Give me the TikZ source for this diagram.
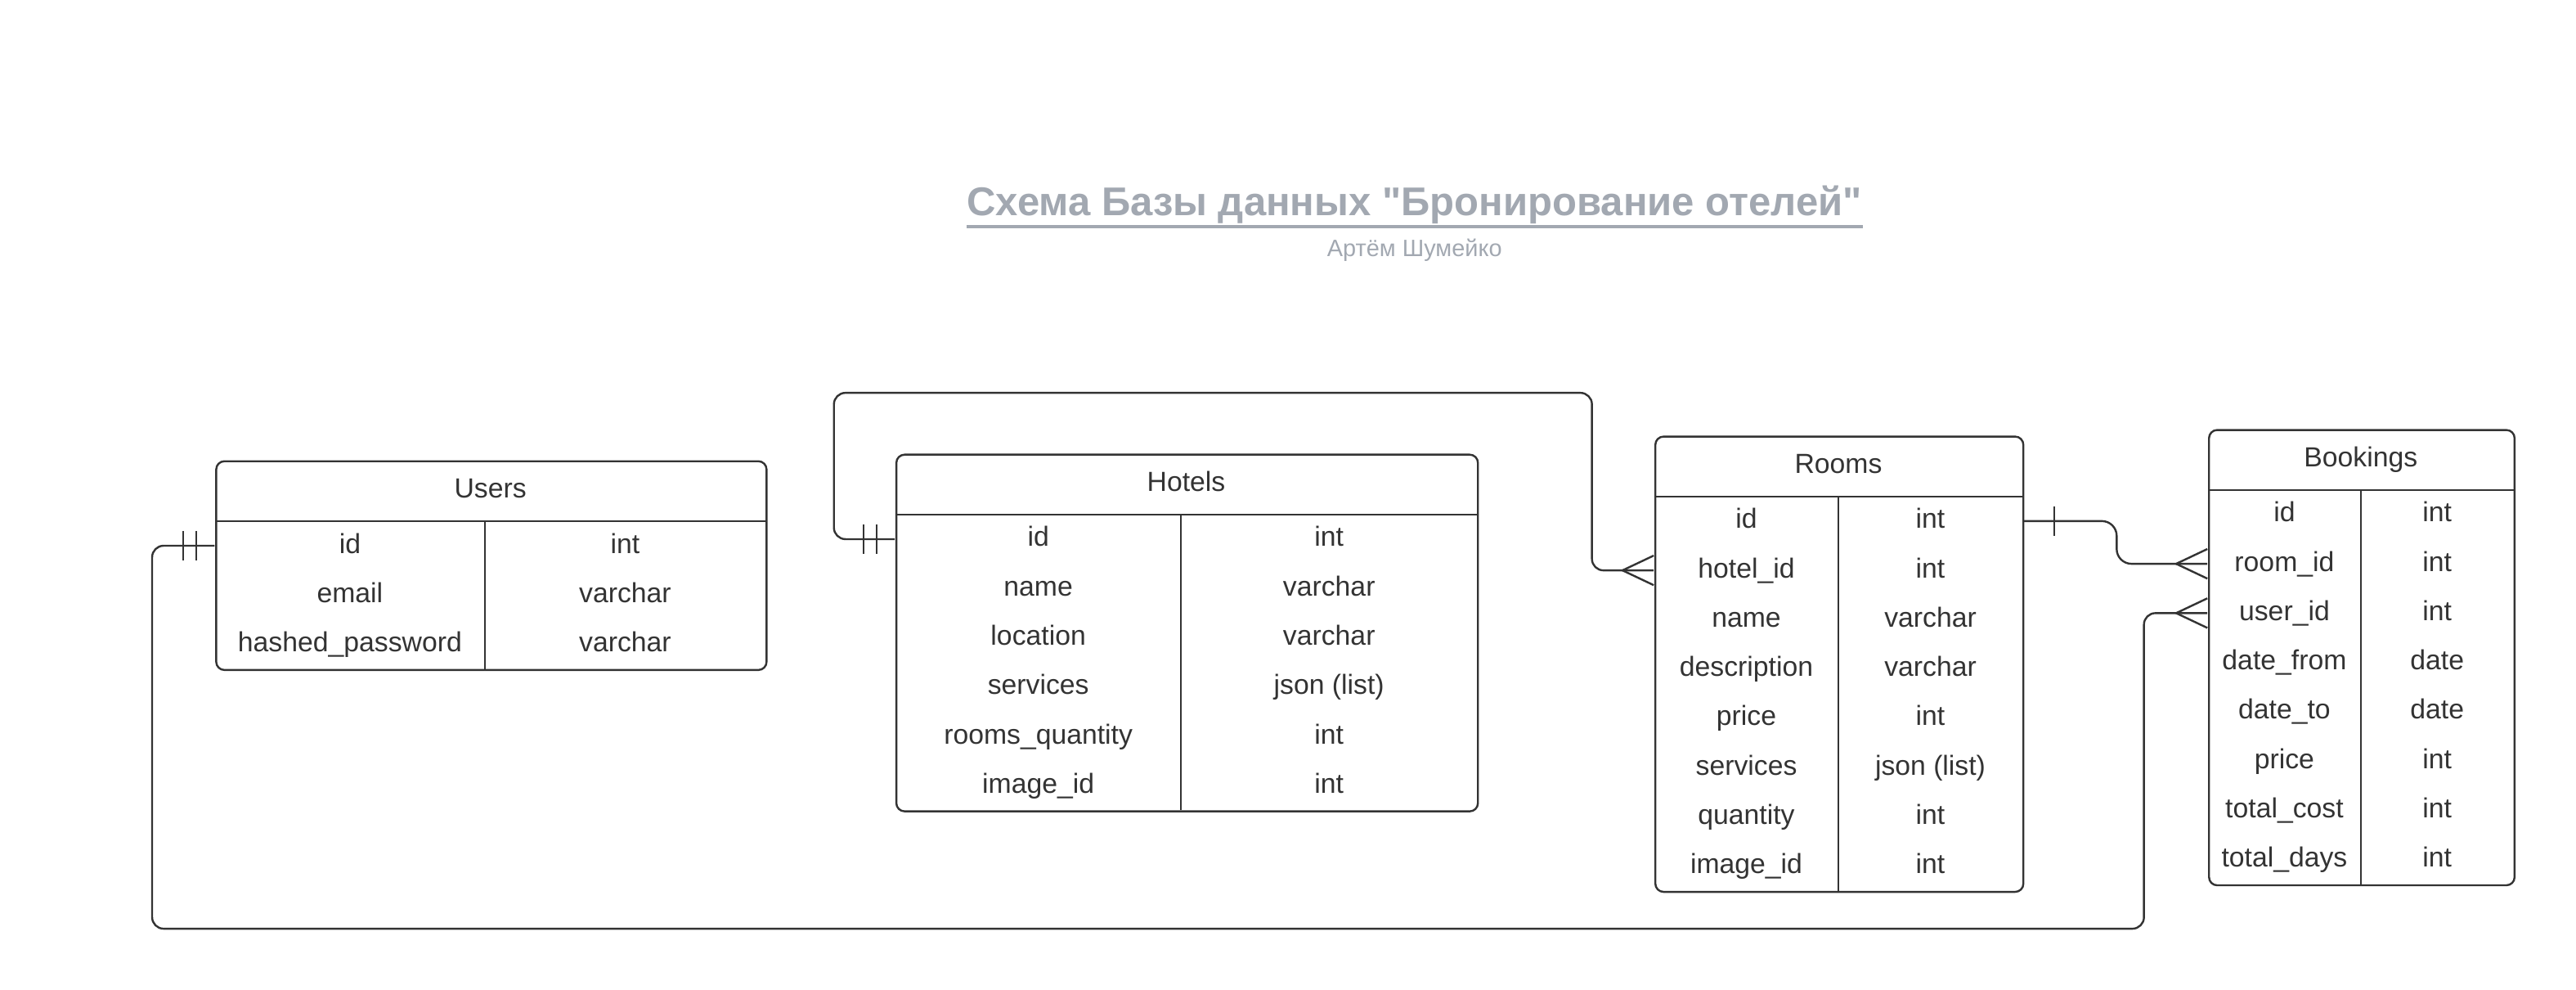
\documentclass[tikz,border=0pt]{standalone}
\usepackage{fontspec}
\setmainfont{Liberation Sans}
\newfontfamily\titlefont{Liberation Sans}[Ligatures=TeXOff]
\usetikzlibrary{calc}
\definecolor{ink}{HTML}{333333}
\definecolor{titlegray}{HTML}{A2A8B1}
\begin{document}
\begin{tikzpicture}[x=0.5pt,y=-0.5pt,
  tbl/.style={draw=ink, line width=0.6pt, rounded corners=2.5pt, inner sep=0pt, anchor=north west},
  divline/.style={draw=ink, line width=0.5pt},
  fieldcell/.style={inner sep=0pt, minimum height=15pt, text height=6pt, text depth=1.5pt, text=ink, font=\fontsize{8.4}{10}\selectfont},
  tblhead/.style={inner sep=0pt, text height=6pt, text depth=1.5pt, text=ink, font=\fontsize{8.4}{10}\selectfont},
  relline/.style={draw=ink, line width=0.6pt, rounded corners=3.5pt},
  crowfoot/.style={draw=ink, line width=0.6pt, sharp corners}]
\useasboundingbox (0,0) rectangle (1568,602);

% title
\node[anchor=base, inner sep=0pt, text=titlegray, font=\titlefont\fontsize{12.2}{15}\selectfont\bfseries] (title) at (861,131) {Схема Базы данных "Бронирование отелей"};
\draw[titlegray, line width=1pt] ($(title.base west)+(0,7)$) -- ($(title.base east)+(0,7)$);
\node[anchor=base, inner sep=0pt, text=titlegray, font=\fontsize{7.2}{9}\selectfont] (author) at (861,156) {Артём Шумейко};

% Users
\node[tbl, minimum width=167.5pt, minimum height=63.5pt] (users) at (131,280) {};
\node[tblhead] (users-h) at (298.5,298.5) {Users};
\draw[divline] (131,317) -- (466,317);
\draw[divline] (295,317) -- (295,407);
\foreach \a/\b [count=\i from 0] in {id/int, email/varchar, hashed\_password/varchar} {
  \node[fieldcell, minimum width=82pt] (u-\i-l) at (213,332+30*\i) {\a};
  \node[fieldcell, minimum width=85.5pt] (u-\i-r) at (380.5,332+30*\i) {\b};
}

% Hotels
\node[tbl, minimum width=177pt, minimum height=108.5pt] (hotels) at (545,276) {};
\node[tblhead] (hotels-h) at (722,294.5) {Hotels};
\draw[divline] (545,313) -- (899,313);
\draw[divline] (719,313) -- (719,493);
\foreach \a/\b [count=\i from 0] in {id/int, name/varchar, location/varchar, services/json (list), rooms\_quantity/int, image\_id/int} {
  \node[fieldcell, minimum width=87pt] (h-\i-l) at (632,328+30*\i) {\a};
  \node[fieldcell, minimum width=90pt] (h-\i-r) at (809,328+30*\i) {\b};
}

% Rooms
\node[tbl, minimum width=112pt, minimum height=138.5pt] (rooms) at (1007,265) {};
\node[tblhead] (rooms-h) at (1119,283.5) {Rooms};
\draw[divline] (1007,302) -- (1231,302);
\draw[divline] (1119,302) -- (1119,542);
\foreach \a/\b [count=\i from 0] in {id/int, hotel\_id/int, name/varchar, description/varchar, price/int, services/json (list), quantity/int, image\_id/int} {
  \node[fieldcell, minimum width=56pt] (r-\i-l) at (1063,317+30*\i) {\a};
  \node[fieldcell, minimum width=56pt] (r-\i-r) at (1175,317+30*\i) {\b};
}

% Bookings
\node[tbl, minimum width=93pt, minimum height=138.5pt] (bookings) at (1344,261) {};
\node[tblhead] (bookings-h) at (1437,279.5) {Bookings};
\draw[divline] (1344,298) -- (1530,298);
\draw[divline] (1437,298) -- (1437,538);
\foreach \a/\b [count=\i from 0] in {id/int, room\_id/int, user\_id/int, date\_from/date, date\_to/date, price/int, total\_cost/int, total\_days/int} {
  \node[fieldcell, minimum width=46.5pt] (b-\i-l) at (1390.5,313+30*\i) {\a};
  \node[fieldcell, minimum width=46.5pt] (b-\i-r) at (1483.5,313+30*\i) {\b};
}

% Users.id -> Bookings.user_id
\draw[relline] (u-0-l.west) -- ++(-38,0) |- (1305,565) |- (b-2-l.west);
\draw[crowfoot] ($(u-0-l.west)+(-19,-9)$) -- ++(0,18);
\draw[crowfoot] ($(u-0-l.west)+(-11,-9)$) -- ++(0,18);
\draw[crowfoot] ($(b-2-l.west)+(0,-9)$) -- ($(b-2-l.west)+(-19,0)$) -- ($(b-2-l.west)+(0,9)$);

% Hotels.id -> Rooms.hotel_id
\draw[relline] (h-0-l.west) -- ++(-37,0) |- (969,239) |- (r-1-l.west);
\draw[crowfoot] ($(h-0-l.west)+(-19,-9)$) -- ++(0,18);
\draw[crowfoot] ($(h-0-l.west)+(-11,-9)$) -- ++(0,18);
\draw[crowfoot] ($(r-1-l.west)+(0,-9)$) -- ($(r-1-l.west)+(-19,0)$) -- ($(r-1-l.west)+(0,9)$);

% Rooms.id -> Bookings.room_id
\draw[relline, rounded corners=4.5pt] (r-0-r.east) -- ++(57,0) |- (b-1-l.west);
\draw[crowfoot] ($(r-0-r.east)+(19,-9)$) -- ++(0,18);
\draw[crowfoot] ($(b-1-l.west)+(0,-9)$) -- ($(b-1-l.west)+(-19,0)$) -- ($(b-1-l.west)+(0,9)$);
\end{tikzpicture}
\end{document}
